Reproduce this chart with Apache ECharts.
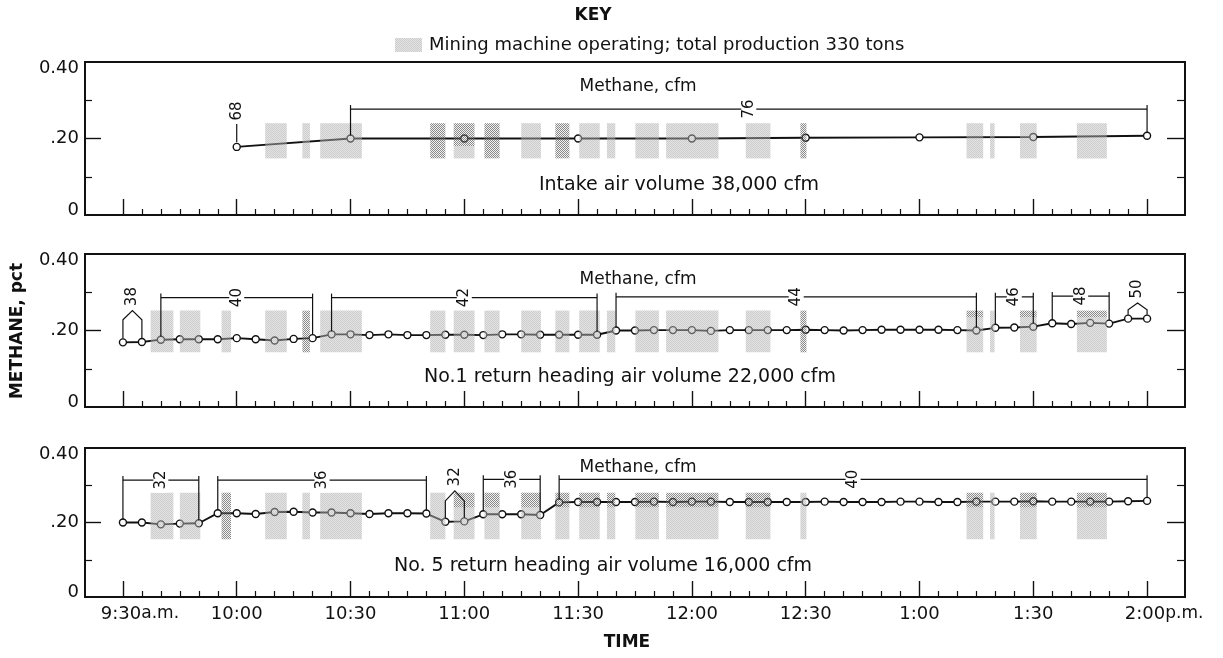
<!DOCTYPE html>
<html>
<head>
<meta charset="UTF-8">
<title>METHANE, pct</title>
<script src="https://cdn.jsdelivr.net/npm/echarts@6/dist/echarts.min.js"></script>
<style>
html, body { margin: 0; padding: 0; background: #fff; }
#main { width: 1223px; height: 658px; }
</style>
</head>
<body>
<div id="main"></div>
<script>
// ---- data ----
var majorLabels = ['9:30a.m.', '10:00', '10:30', '11:00', '11:30', '12:00', '12:30', '1:00', '1:30', '2:00p.m.'];

// intake: one reading every half hour
var intakeTimes = ['10:00', '10:30', '11:00', '11:30', '12:00', '12:30', '1:00', '1:30', '2:00'];
var intakeValues = [0.178, 0.200, 0.200, 0.200, 0.200, 0.202, 0.203, 0.204, 0.207];

// return headings: one reading every 5 minutes
var times5 = ['9:30', '9:35', '9:40', '9:45', '9:50', '9:55', '10:00', '10:05', '10:10', '10:15', '10:20',
  '10:25', '10:30', '10:35', '10:40', '10:45', '10:50', '10:55', '11:00', '11:05', '11:10', '11:15', '11:20',
  '11:25', '11:30', '11:35', '11:40', '11:45', '11:50', '11:55', '12:00', '12:05', '12:10', '12:15', '12:20',
  '12:25', '12:30', '12:35', '12:40', '12:45', '12:50', '12:55', '1:00', '1:05', '1:10', '1:15', '1:20',
  '1:25', '1:30', '1:35', '1:40', '1:45', '1:50', '1:55', '2:00'];
var return1Values = [0.169, 0.170, 0.176, 0.177, 0.177, 0.177, 0.180, 0.177, 0.174, 0.178, 0.180,
  0.190, 0.190, 0.188, 0.190, 0.188, 0.188, 0.189, 0.189, 0.188, 0.190, 0.190, 0.189, 0.189, 0.189, 0.189,
  0.200, 0.200, 0.201, 0.201, 0.201, 0.199, 0.201, 0.201, 0.201, 0.201, 0.202, 0.201, 0.200, 0.201, 0.202,
  0.202, 0.202, 0.202, 0.201, 0.200,
  0.207, 0.208, 0.210, 0.219, 0.217, 0.220, 0.218, 0.231, 0.231];
var return5Values = [0.200, 0.200, 0.195, 0.197, 0.198,
  0.225, 0.225, 0.223, 0.228, 0.229, 0.227, 0.227, 0.225, 0.223, 0.225, 0.225, 0.224,
  0.202, 0.203,
  0.222, 0.222, 0.222, 0.220,
  0.254, 0.255, 0.255, 0.255, 0.255, 0.256, 0.255, 0.256, 0.256, 0.255, 0.255, 0.255, 0.255, 0.255, 0.256,
  0.255, 0.255, 0.255, 0.256, 0.256, 0.255, 0.255, 0.256, 0.256, 0.256, 0.257, 0.256, 0.256, 0.256, 0.256,
  0.257, 0.258];

// mining machine operating periods
var machineOn = [['9:37.3', '9:43.3'], ['9:45', '9:50.4'], ['9:56', '9:58.5'], ['10:07.5', '10:13.2'],
  ['10:17.3', '10:19.3'], ['10:22', '10:33'], ['10:51', '10:55'], ['10:57.2', '11:02.7'], ['11:05.3', '11:09.3'],
  ['11:15', '11:20.2'], ['11:24', '11:27.7'], ['11:30.3', '11:35.7'], ['11:37.6', '11:39.8'], ['11:45.1', '11:51.3'],
  ['11:53.2', '12:07'], ['12:14.2', '12:20.7'], ['12:28.6', '12:30.2'], ['1:12.4', '1:16.8'], ['1:18.6', '1:19.8'],
  ['1:26.5', '1:30.9'], ['1:41.5', '1:49.4']];
// shading per period: L light stipple, D dotted, T dotted top / light bottom, - none
var shade1 = '---LLLDTDLDLLLLLDLLLL';
var shade2 = 'LLLLDLLLLLLLLLLLDTLTT';
var shade3 = 'LLDLLLLTTTTTTTTTLTLTT';

// methane flow brackets, cfm
var notes1 = [['stem', '10:00', 0.238, '68'], ['span', '10:30', '2:00', 0.277, '76']];
var notes2 = [['arch', '9:30', '9:35', 0.228, 0.252, '38'], ['span', '9:40', '10:20', 0.286, '40'],
  ['span', '10:25', '11:35', 0.286, '42'], ['span', '11:40', '1:15', 0.288, '44'],
  ['span', '1:20', '1:30', 0.288, '46'], ['span', '1:35', '1:50', 0.29, '48'],
  ['arch', '1:55', '2:00', 0.254, 0.272, '50']];
var notes3 = [['span', '9:30', '9:50', 0.314, '32'], ['span', '9:55', '10:50', 0.314, '36'],
  ['arch', '10:55', '11:00', 0.258, 0.285, '32'], ['span', '11:05', '11:20', 0.316, '36'],
  ['span', '11:25', '2:00', 0.316, '40']];

var FONT = '"DejaVu Sans", sans-serif';
var INK = '#111';

function toMin(s) {
  var p = s.split(':');
  var h = parseInt(p[0], 10);
  if (h < 9) h += 12;
  return h * 60 + parseFloat(p[1]);
}
function pairs(ts, vs) {
  return ts.map(function (t, i) { return [toMin(t), vs[i]]; });
}

var majorTicks = majorLabels.map(function (l) { return toMin(l.replace(/[ap]\.m\./, '')); });
var minorTicks = [];
for (var t = 570; t <= 840; t += 5) { if (t % 30 !== 0) minorTicks.push(t); }

// fill patterns for the shaded periods
function makePattern(kind) {
  var c = document.createElement('canvas');
  c.width = 2; c.height = 2;
  var g = c.getContext('2d');
  if (kind === 'D') {
    g.fillStyle = 'rgba(60,60,60,0.6)';
    g.fillRect(0, 0, 1, 1); g.fillRect(1, 1, 1, 1);
    g.fillStyle = 'rgba(215,215,215,0.35)';
    g.fillRect(1, 0, 1, 1); g.fillRect(0, 1, 1, 1);
  } else {
    g.fillStyle = 'rgba(155,155,155,0.5)';
    g.fillRect(0, 0, 1, 1); g.fillRect(1, 1, 1, 1);
    g.fillStyle = 'rgba(200,200,200,0.5)';
    g.fillRect(1, 0, 1, 1); g.fillRect(0, 1, 1, 1);
  }
  return { image: c, repeat: 'repeat' };
}
var fillL = makePattern('L');
var fillD = makePattern('D');

var panels = [
  { top: 62, height: 153, data: pairs(intakeTimes, intakeValues), shade: shade1, range: [0.148, 0.240], split: 0.18, notes: notes1 },
  { top: 254, height: 153, data: pairs(times5, return1Values), shade: shade2, range: [0.143, 0.252], split: 0.234, notes: notes2 },
  { top: 448, height: 149, data: pairs(times5, return5Values), shade: shade3, range: [0.155, 0.280], split: 0.24, notes: notes3 }
];

function valueAt(data, t) {
  for (var i = 0; i < data.length; i++) { if (Math.abs(data[i][0] - t) < 0.01) return data[i][1]; }
  return 0.2;
}

var grids = [], xAxes = [], yAxes = [], series = [];

panels.forEach(function (p, i) {
  grids.push({ left: 85, right: 38, top: p.top, height: p.height, show: true, borderColor: INK, borderWidth: 2 });

  xAxes.push({
    gridIndex: i, type: 'value', position: 'bottom', min: 560, max: 850,
    axisLine: { show: false }, splitLine: { show: false },
    axisTick: { show: true, inside: true, length: 16, customValues: majorTicks, lineStyle: { color: INK, width: 1.4 } },
    axisLabel: {
      show: i === 2, customValues: majorTicks, margin: 8, color: INK, fontSize: 18, fontFamily: FONT,
      formatter: function (v) {
        var k = majorTicks.indexOf(v);
        var l = majorLabels[k] || '';
        var m = l.match(/^(.*?)([ap]\.m\.)$/);
        if (m) return '{p| }' + m[1] + '{s|' + m[2] + '}';
        return l;
      },
      rich: { p: { width: 34, fontSize: 17 }, s: { fontSize: 17, fontFamily: FONT, color: INK } }
    }
  });
  xAxes.push({
    gridIndex: i, type: 'value', position: 'bottom', min: 560, max: 850,
    axisLine: { show: false }, splitLine: { show: false }, axisLabel: { show: false },
    axisTick: { show: true, inside: true, length: 6, customValues: minorTicks, lineStyle: { color: INK, width: 1.2 } }
  });

  var yBase = { gridIndex: i, type: 'value', min: 0, max: 0.4, axisLine: { show: false }, splitLine: { show: false } };
  yAxes.push(Object.assign({}, yBase, {
    position: 'left',
    axisTick: { show: true, inside: true, length: 16, customValues: [0.2], lineStyle: { color: INK, width: 1.4 } },
    axisLabel: {
      customValues: [0, 0.2, 0.4], margin: 6, color: INK, fontSize: 18, fontFamily: FONT,
      formatter: function (v) {
        if (v === 0) return '{lo|0}';
        if (v > 0.3) return '{hi|0.40}';
        return '.20';
      },
      rich: { lo: { padding: [0, 0, 10, 0] }, hi: { padding: [12, 0, 0, 0] } }
    }
  }));
  yAxes.push(Object.assign({}, yBase, {
    position: 'left', axisLabel: { show: false },
    axisTick: { show: true, inside: true, length: 7, customValues: [0.1, 0.3], lineStyle: { color: INK, width: 1.2 } }
  }));
  yAxes.push(Object.assign({}, yBase, {
    position: 'right', axisLabel: { show: false },
    axisTick: { show: true, inside: true, length: 18, customValues: [0.2], lineStyle: { color: INK, width: 1.4 } }
  }));
  yAxes.push(Object.assign({}, yBase, {
    position: 'right', axisLabel: { show: false },
    axisTick: { show: true, inside: true, length: 8, customValues: [0.1, 0.3], lineStyle: { color: INK, width: 1.2 } }
  }));

  var xi = 2 * i, yi = 4 * i;

  series.push({
    type: 'line', xAxisIndex: xi, yAxisIndex: yi, data: p.data, z: 2,
    symbol: 'circle', symbolSize: 7, showSymbol: true,
    lineStyle: { color: INK, width: 1.9 },
    itemStyle: { color: '#fff', borderColor: INK, borderWidth: 1.4 },
    silent: true
  });

  // shaded machine periods
  var kinds = [], blocks = [];
  machineOn.forEach(function (m, k) {
    var f = p.shade.charAt(k);
    if (f === '-') return;
    kinds.push(f);
    blocks.push([toMin(m[0]), toMin(m[1]), p.range[0], p.range[1]]);
  });
  series.push({
    type: 'custom', xAxisIndex: xi, yAxisIndex: yi, data: blocks, z: 3, silent: true,
    encode: { x: [0, 1], y: [2, 3] },
    renderItem: function (params, api) {
      var kind = kinds[params.dataIndex];
      var a = api.coord([api.value(0), api.value(3)]);
      var b = api.coord([api.value(1), api.value(2)]);
      var w = b[0] - a[0];
      if (kind === 'T') {
        var s = api.coord([api.value(0), p.split])[1];
        return { type: 'group', children: [
          { type: 'rect', shape: { x: a[0], y: a[1], width: w, height: s - a[1] }, style: { fill: fillD } },
          { type: 'rect', shape: { x: a[0], y: s, width: w, height: b[1] - s }, style: { fill: fillL } }
        ] };
      }
      return { type: 'rect', shape: { x: a[0], y: a[1], width: w, height: b[1] - a[1] },
        style: { fill: kind === 'D' ? fillD : fillL } };
    }
  });

  // methane cfm brackets
  series.push({
    type: 'custom', xAxisIndex: xi, yAxisIndex: yi, z: 4, silent: true,
    data: p.notes.map(function (n, k) { return [k]; }),
    renderItem: function (params, api) {
      var n = p.notes[params.dataIndex];
      var ls = { stroke: INK, lineWidth: 1.2, fill: null };
      var lab = function (x, y, txt, bg) {
        return { type: 'text', x: x, y: y, rotation: Math.PI / 2,
          style: { text: txt, fill: INK, font: '15px ' + FONT, align: 'center', verticalAlign: 'middle',
            backgroundColor: bg ? '#fff' : null, padding: bg ? [0, 3] : 0 } };
      };
      var kids = [];
      if (n[0] === 'stem') {
        var t0 = toMin(n[1]);
        var pa = api.coord([t0, valueAt(p.data, t0) + 0.012]);
        var pb = api.coord([t0, n[2]]);
        kids.push({ type: 'polyline', shape: { points: [pa, pb] }, style: ls });
        kids.push(lab(pb[0], pb[1] - 13, n[3], false));
      } else if (n[0] === 'span') {
        var t1 = toMin(n[1]), t2 = toMin(n[2]);
        var l1 = api.coord([t1, valueAt(p.data, t1) + 0.008]);
        var l2 = api.coord([t2, valueAt(p.data, t2) + 0.008]);
        var h1 = api.coord([t1, n[3]]), h2 = api.coord([t2, n[3]]);
        kids.push({ type: 'polyline', shape: { points: [l1, [h1[0], h1[1] - 4]] }, style: ls });
        kids.push({ type: 'polyline', shape: { points: [l2, [h2[0], h2[1] - 4]] }, style: ls });
        kids.push({ type: 'polyline', shape: { points: [h1, h2] }, style: ls });
        kids.push(lab((h1[0] + h2[0]) / 2, h1[1], n[4], true));
      } else {
        var u1 = toMin(n[1]), u2 = toMin(n[2]), um = (u1 + u2) / 2;
        var pts = [
          api.coord([u1, valueAt(p.data, u1) + 0.01]), api.coord([u1, n[3]]),
          api.coord([um, n[4]]),
          api.coord([u2, n[3]]), api.coord([u2, valueAt(p.data, u2) + 0.01])
        ];
        kids.push({ type: 'polyline', shape: { points: pts }, style: ls });
        kids.push(lab(pts[2][0], pts[2][1] - 14, n[5], false));
      }
      return { type: 'group', children: kids };
    }
  });
});

function txt(x, y, s, font, extra) {
  var el = { type: 'text', x: x, y: y, silent: true,
    style: { text: s, font: font, fill: INK, align: 'center', verticalAlign: 'middle' } };
  return Object.assign(el, extra || {});
}

var graphics = [
  txt(593, 16, 'KEY', 'bold 17px ' + FONT),
  { type: 'rect', shape: { x: 395, y: 38, width: 27, height: 14 }, style: { fill: fillL }, silent: true },
  { type: 'text', x: 429, y: 45, silent: true,
    style: { text: 'Mining machine operating; total production 330 tons', font: '18px ' + FONT, fill: INK, align: 'left', verticalAlign: 'middle' } },
  txt(638, 87, 'Methane, cfm', '17px ' + FONT),
  txt(638, 280, 'Methane, cfm', '17px ' + FONT),
  txt(638, 468, 'Methane, cfm', '17px ' + FONT),
  txt(679, 185, 'Intake air volume 38,000 cfm', '19px ' + FONT),
  txt(630, 377, 'No.1 return heading air volume 22,000 cfm', '19px ' + FONT),
  txt(603, 566, 'No. 5 return heading air volume 16,000 cfm', '19px ' + FONT),
  txt(18, 331, 'METHANE, pct', 'bold 17px ' + FONT, { rotation: Math.PI / 2 }),
  txt(627, 643, 'TIME', 'bold 17px ' + FONT)
];

var chart = echarts.init(document.getElementById('main'));
chart.setOption({
  animation: false,
  backgroundColor: '#fff',
  grid: grids,
  xAxis: xAxes,
  yAxis: yAxes,
  series: series,
  graphic: graphics
});
</script>
</body>
</html>
